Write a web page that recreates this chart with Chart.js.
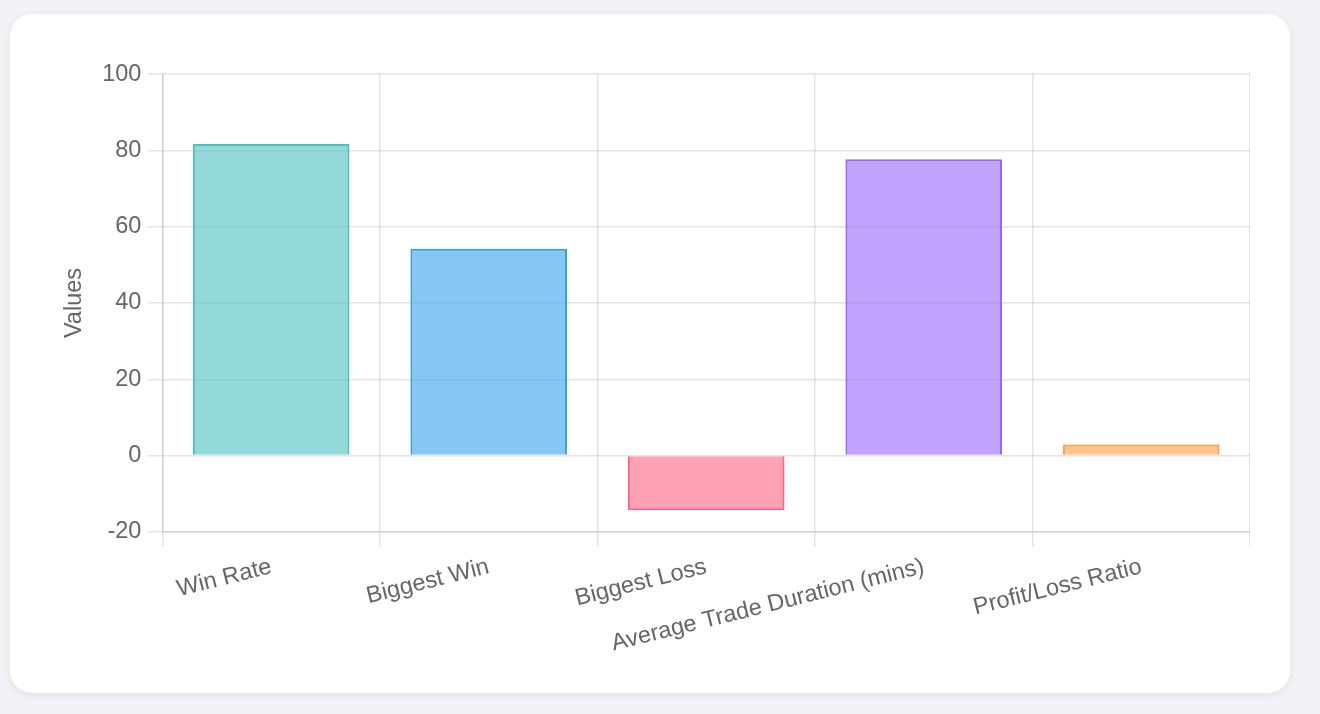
<!DOCTYPE html>
<html>
<head>
<meta charset="utf-8">
<script src="https://cdn.jsdelivr.net/npm/chart.js@4"></script>
<style>
    html, body { margin: 0; padding: 0; background: #f2f2f7; }
    .card {
        position: absolute;
        left: 10px; top: 14px;
        width: 1280px; height: 679px;
        background: #fff;
        border-radius: 22px;
        box-shadow: 0 2px 10px rgba(0,0,0,0.08);
    }
    .chart-box {
        position: absolute;
        left: 42px; top: 40px;
        width: 1198px; height: 610px;
    }
</style>
</head>
<body>
<div class="card">
    <div class="chart-box"><canvas id="chart-area"></canvas></div>
</div>
<script>
var labels = ["Win Rate", "Biggest Win", "Biggest Loss", "Average Trade Duration (mins)", "Profit/Loss Ratio"];
var values = [81.7, 54.2, -14.3, 77.7, 2.9];
var fillColors = [
    "rgba(75, 192, 192, 0.6)",
    "rgba(54, 162, 235, 0.6)",
    "rgba(255, 99, 132, 0.6)",
    "rgba(153, 102, 255, 0.6)",
    "rgba(255, 159, 64, 0.6)"
];
var borderColors = [
    "rgb(75, 192, 192)",
    "rgb(54, 162, 235)",
    "rgb(255, 99, 132)",
    "rgb(153, 102, 255)",
    "rgb(255, 159, 64)"
];

Chart.defaults.font.family = "'Liberation Sans', Arial, Helvetica, sans-serif";
Chart.defaults.font.size = 23.5;
Chart.defaults.color = "#666";

var config = {
    type: 'bar',
    data: {
        labels: labels,
        datasets: [{
            label: 'Values',
            data: values,
            backgroundColor: fillColors,
            borderColor: borderColors,
            borderWidth: 2
        }]
    },
    options: {
        responsive: true,
        maintainAspectRatio: false,
        animation: false,
        plugins: {
            legend: { display: false },
            tooltip: { enabled: false }
        },
        scales: {
            x: {
                grid: { tickLength: 15, lineWidth: 1.5 },
                border: { width: 1.5 },
                ticks: { padding: 6, minRotation: 14, maxRotation: 14 }
            },
            y: {
                min: -20,
                max: 100,
                ticks: { stepSize: 20, padding: 6 },
                grid: { tickLength: 15, lineWidth: 1.5 },
                border: { width: 1.5 },
                title: { display: true, text: 'Values', padding: 8 }
            }
        }
    }
};

window.onload = function() {
    var ctx = document.getElementById("chart-area").getContext("2d");
    window.myBar = new Chart(ctx, config);
};
</script>
</body>
</html>
